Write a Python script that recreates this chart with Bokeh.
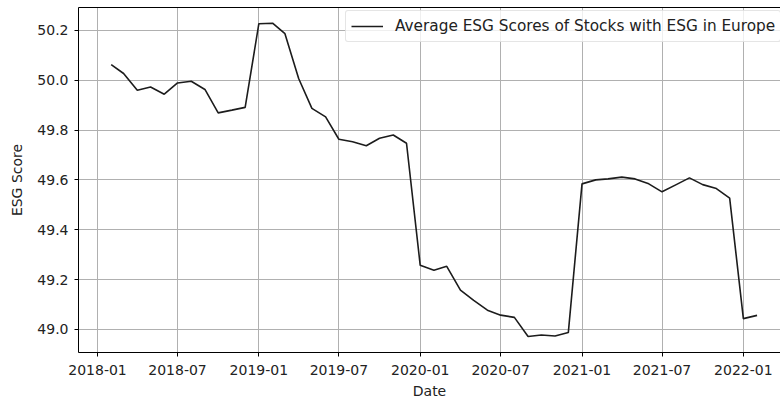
import pandas as pd
from datetime import datetime
from bokeh.plotting import figure
from bokeh.models import (ColumnDataSource, Range1d, LinearAxis, MonthsTicker, FixedTicker,
                          SingleIntervalTicker, DatetimeTickFormatter, NumeralTickFormatter,
                          Legend, LegendItem)
from bokeh.embed import file_html
from bokeh.resources import INLINE

# ---- data ----
dates = pd.date_range("2018-02-01", periods=49, freq="MS")
scores_2018 = [50.063, 50.027, 49.960, 49.973, 49.944, 49.989, 49.996, 49.963, 49.869, 49.880, 49.891]
scores_2019 = [50.227, 50.229, 50.187, 50.007, 49.887, 49.853, 49.763, 49.753, 49.737, 49.767, 49.780, 49.747]
scores_2020 = [49.257, 49.237, 49.253, 49.157, 49.116, 49.077, 49.057, 49.048, 48.971, 48.977, 48.973, 48.987]
scores_2021 = [49.584, 49.600, 49.604, 49.611, 49.604, 49.584, 49.552, 49.580, 49.608, 49.581, 49.565, 49.527]
scores_2022 = [49.043, 49.056]
scores = scores_2018 + scores_2019 + scores_2020 + scores_2021 + scores_2022
series_label = "Average ESG Scores of Stocks with ESG in Europe"
x_label = "Date"
y_label = "ESG Score"

source = ColumnDataSource(data=dict(date=dates, score=scores))

FONT = "DejaVu Sans"
FS = "14px"

p = figure(width=780, height=401, x_axis_type="datetime",
           x_range=Range1d(datetime(2017, 11, 19), datetime(2022, 3, 26)),
           y_range=Range1d(48.907, 50.292),
           output_backend="svg", toolbar_location=None,
           min_border_left=78, min_border_right=0, min_border_top=7, min_border_bottom=48)
p.background_fill_color = "white"
p.border_fill_color = "white"
p.outline_line_color = None

r = p.line("date", "score", source=source, line_color="#1c1c1c", line_width=1.6)

# axes styling
for ax in (p.xaxis[0], p.yaxis[0]):
    ax.axis_line_color = "black"
    ax.axis_line_width = 1
    ax.major_tick_line_color = "black"
    ax.major_tick_in = 0
    ax.major_tick_out = 4
    ax.minor_tick_line_color = None
    ax.major_label_text_font = FONT
    ax.major_label_text_font_size = FS
    ax.major_label_text_color = "#222222"
    ax.axis_label_text_font = FONT
    ax.axis_label_text_font_size = FS
    ax.axis_label_text_font_style = "normal"
    ax.axis_label_text_color = "#222222"

p.xaxis.axis_label = x_label
p.yaxis.axis_label = y_label
p.xaxis.ticker = MonthsTicker(months=[0, 6])
p.xaxis.formatter = DatetimeTickFormatter(days="%Y-%m", months="%Y-%m", years="%Y-%m")
p.xaxis.major_label_standoff = 8
p.xaxis.axis_label_standoff = 5
p.yaxis.ticker = SingleIntervalTicker(interval=0.2)
p.yaxis.formatter = NumeralTickFormatter(format="0.0")
p.yaxis.major_label_standoff = 6
p.yaxis.axis_label_standoff = 9

# top spine (no ticks, no labels)
top = LinearAxis(ticker=FixedTicker(ticks=[]), major_tick_line_color=None,
                 minor_tick_line_color=None, major_label_standoff=0,
                 major_tick_out=0, major_tick_in=0, axis_line_color="black")
p.add_layout(top, "above")

# grid
for g in (p.xgrid[0], p.ygrid[0]):
    g.grid_line_color = "#b0b0b0"
    g.grid_line_width = 1

legend = Legend(items=[LegendItem(label=series_label, renderers=[r])],
                location=(267, 310))
legend.label_text_font = FONT
legend.label_text_font_size = "15.3px"
legend.label_text_color = "#222222"
legend.glyph_width = 32
legend.label_standoff = 12
legend.padding = 5
legend.border_line_color = "#cccccc"
legend.border_line_width = 1
legend.background_fill_alpha = 0.8
legend.border_radius = 3
p.add_layout(legend, "center")

open("out.html", "w").write(file_html(p, INLINE))
